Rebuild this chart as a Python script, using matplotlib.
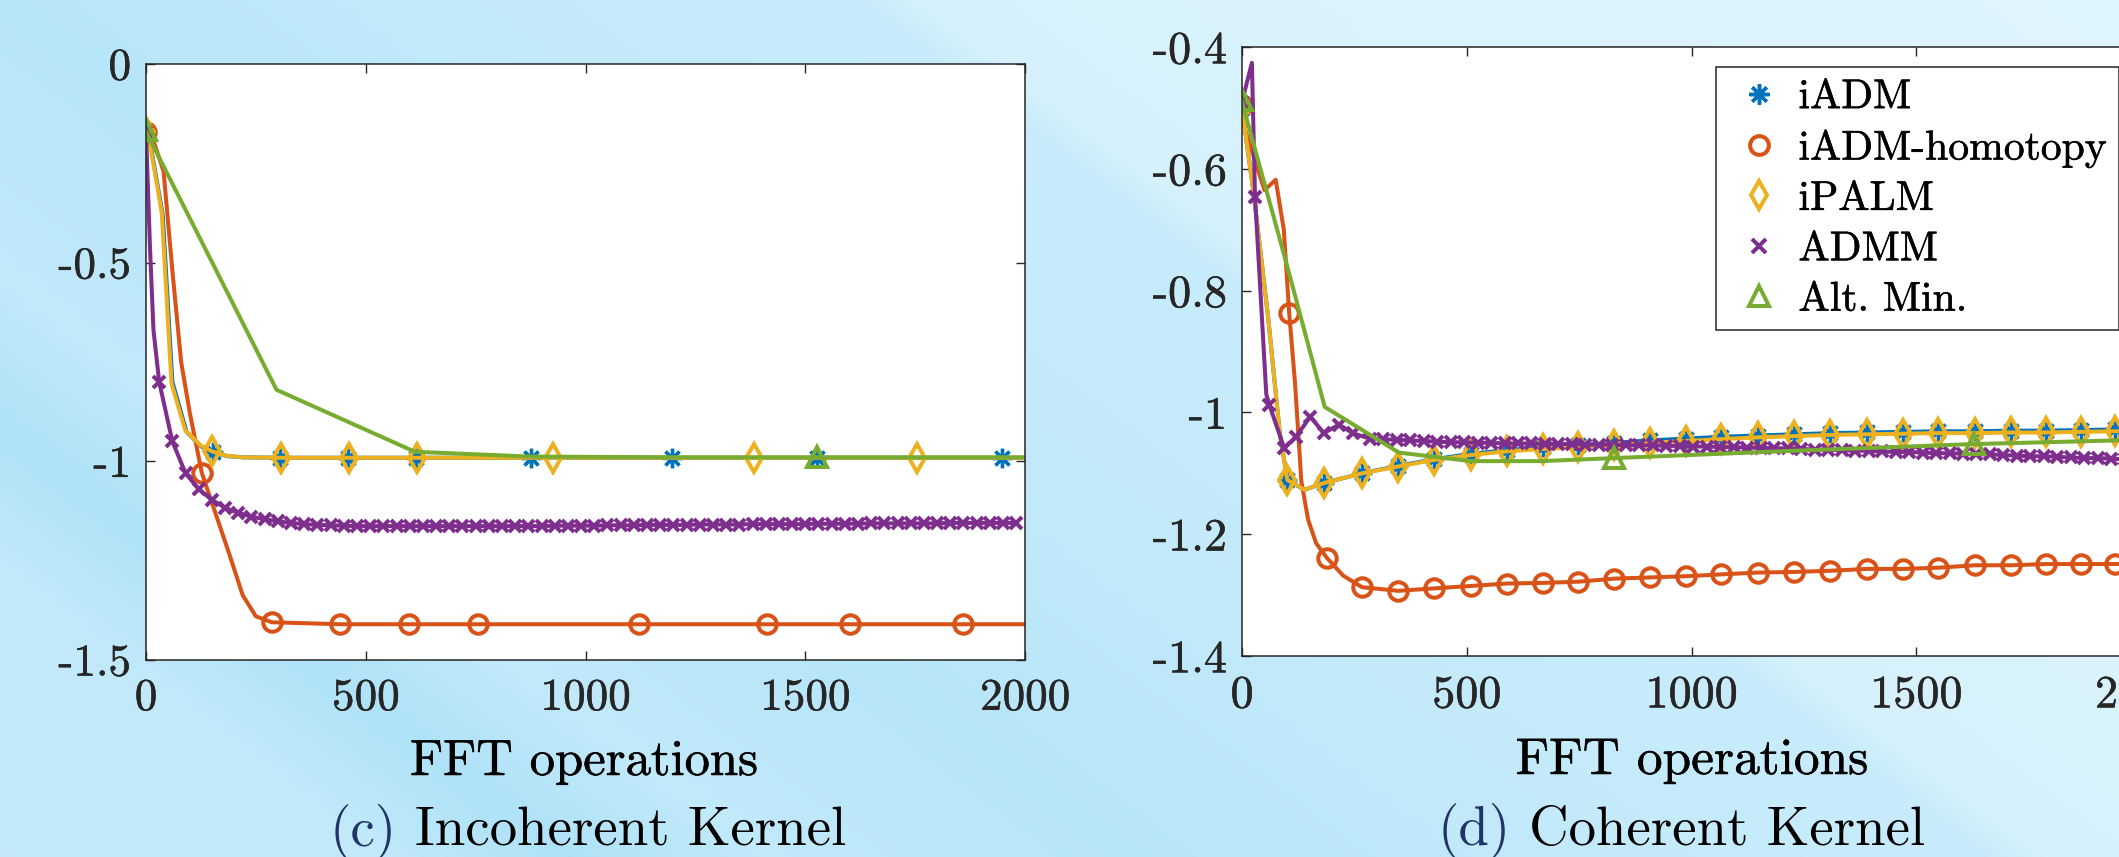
import numpy as np
import matplotlib
matplotlib.use('Agg')
import matplotlib.pyplot as plt
import matplotlib.patheffects as pe
from matplotlib.lines import Line2D

plt.rcParams['font.family'] = ['cmr10', 'DejaVu Serif']
plt.rcParams['axes.unicode_minus'] = False

W, H = 2119, 857

# ---------------- (c) Incoherent Kernel ----------------
iadm_c_x = [0, 6, 38, 60, 92, 125, 152, 186, 222, 306, 460, 615, 875, 1197, 1527, 1947, 2000]
iadm_c_y = [-0.17, -0.175, -0.38, -0.80, -0.925, -0.962, -0.977, -0.987, -0.990, -0.991, -0.991,
            -0.991, -0.991, -0.991, -0.991, -0.991, -0.991]
iadm_c_mx = [0, 152, 306, 460, 615, 875, 1197, 1527, 1947]
iadm_c_my = [-0.17, -0.977, -0.991, -0.991, -0.991, -0.991, -0.991, -0.991, -0.991]

hom_c_x = [0, 10, 40, 60, 80, 100, 127, 160, 190, 220, 250, 286, 442, 598, 755, 1122, 1413, 1602, 1859, 2000]
hom_c_y = [-0.17, -0.17, -0.27, -0.52, -0.75, -0.88, -1.029, -1.137, -1.235, -1.337, -1.39, -1.405,
           -1.41, -1.41, -1.41, -1.41, -1.41, -1.41, -1.41, -1.41]
hom_c_mx = [0, 127, 286, 442, 598, 755, 1122, 1413, 1602, 1859]
hom_c_my = [-0.17, -1.029, -1.405, -1.41, -1.41, -1.41, -1.41, -1.41, -1.41, -1.41]

ipalm_c_x = [0, 5, 36, 58, 89, 123, 150, 184, 221, 307, 462, 617, 926, 1383, 1754, 2000]
ipalm_c_y = [-0.17, -0.174, -0.376, -0.804, -0.921, -0.959, -0.975, -0.986, -0.990, -0.991, -0.991,
             -0.991, -0.991, -0.991, -0.991, -0.991]
ipalm_c_mx = [0, 150, 307, 462, 617, 926, 1383, 1754]
ipalm_c_my = [-0.17, -0.975, -0.991, -0.991, -0.991, -0.991, -0.991, -0.991]

admm_c_x = [0, 9, 17, 30, 60, 90, 120, 150, 180, 210, 240, 270, 300, 330, 360, 390, 420, 450, 480,
            510, 540, 570, 600, 630, 660, 690, 720, 750, 780, 810, 840, 870, 900, 930, 960, 990,
            1020, 1050, 1080, 1110, 1140, 1170, 1200, 1230, 1260, 1290, 1320, 1350, 1380, 1410,
            1440, 1470, 1500, 1530, 1560, 1590, 1620, 1650, 1680, 1710, 1740, 1770, 1800, 1830,
            1860, 1890, 1920, 1950, 1980]
admm_c_y = [-0.17, -0.46, -0.67, -0.80, -0.95, -1.03, -1.07, -1.097, -1.117, -1.130, -1.139, -1.146,
            -1.151, -1.155, -1.158, -1.160, -1.161, -1.162, -1.163, -1.163, -1.163, -1.163, -1.163,
            -1.163, -1.163, -1.163, -1.163, -1.163, -1.163, -1.163, -1.163, -1.163, -1.163, -1.162,
            -1.162, -1.162, -1.162, -1.161, -1.161, -1.161, -1.160, -1.160, -1.160, -1.160, -1.159,
            -1.159, -1.159, -1.159, -1.158, -1.158, -1.158, -1.158, -1.158, -1.157, -1.157, -1.157,
            -1.157, -1.156, -1.156, -1.156, -1.156, -1.156, -1.156, -1.155, -1.155, -1.155, -1.155,
            -1.155, -1.155]
admm_c_skip = [1, 2]  # line vertices drawn without a marker

alt_c_x = [0, 297, 612, 874, 1227, 1527, 2000]
alt_c_y = [-0.17, -0.82, -0.976, -0.988, -0.990, -0.990, -0.990]
alt_c_mx = [0, 1527]
alt_c_my = [-0.165, -0.990]

# ---------------- (d) Coherent Kernel ----------------
ipalm_d_x = [0, 25, 58, 84, 101, 139, 182, 267, 346, 427, 509, 589, 669, 748, 828, 907, 987, 1066,
             1148, 1228, 1309, 1391, 1471, 1549, 1631, 1711, 1789, 1866, 1943, 2000]
ipalm_d_y = [-0.50, -0.635, -0.843, -1.034, -1.111, -1.127, -1.116, -1.100, -1.089, -1.078, -1.070,
             -1.064, -1.060, -1.057, -1.054, -1.050, -1.047, -1.044, -1.041, -1.039, -1.037, -1.036,
             -1.035, -1.034, -1.034, -1.033, -1.033, -1.032, -1.031, -1.031]
ipalm_d_mx = [0, 101, 182, 267, 346, 427, 509, 589, 669, 748, 828, 907, 987, 1066, 1148, 1228, 1309,
              1391, 1471, 1549, 1631, 1711, 1789, 1866, 1943]
ipalm_d_my = [-0.50, -1.111, -1.116, -1.100, -1.089, -1.078, -1.070, -1.064, -1.060, -1.057, -1.054,
              -1.050, -1.047, -1.044, -1.041, -1.039, -1.037, -1.036, -1.035, -1.034, -1.034, -1.033,
              -1.033, -1.032, -1.031]

iadm_d_x = ipalm_d_x
iadm_d_y = [-0.50, -0.635, -0.843, -1.034, -1.111, -1.127, -1.116, -1.100, -1.088, -1.077, -1.068,
            -1.062, -1.057, -1.054, -1.050, -1.046, -1.043, -1.040, -1.038, -1.036, -1.034, -1.033,
            -1.032, -1.031, -1.031, -1.030, -1.030, -1.029, -1.028, -1.028]
iadm_d_mx = ipalm_d_mx
iadm_d_my = [-0.50, -1.111, -1.116, -1.100, -1.088, -1.077, -1.068, -1.062, -1.057, -1.054, -1.050,
             -1.046, -1.043, -1.040, -1.038, -1.036, -1.034, -1.033, -1.032, -1.031, -1.031, -1.030,
             -1.030, -1.029, -1.028]

hom_d_x = [0, 7, 50, 75, 93, 105, 118, 132, 147, 165, 189, 225, 267, 348, 427, 509, 589, 669, 748,
           828, 907, 987, 1066, 1148, 1228, 1309, 1391, 1471, 1549, 1631, 1711, 1789, 1866, 1943, 2000]
hom_d_y = [-0.495, -0.536, -0.635, -0.618, -0.70, -0.837, -0.952, -1.113, -1.176, -1.215, -1.239,
           -1.268, -1.287, -1.293, -1.289, -1.285, -1.281, -1.280, -1.278, -1.273, -1.271, -1.269,
           -1.266, -1.263, -1.262, -1.260, -1.257, -1.257, -1.255, -1.251, -1.251, -1.249, -1.249,
           -1.249, -1.248]
hom_d_mx = [0, 105, 189, 267, 348, 427, 509, 589, 669, 748, 828, 907, 987, 1066, 1148, 1228, 1309,
            1391, 1471, 1549, 1631, 1711, 1789, 1866, 1943]
hom_d_my = [-0.495, -0.837, -1.239, -1.287, -1.293, -1.289, -1.285, -1.281, -1.280, -1.278, -1.273,
            -1.271, -1.269, -1.266, -1.263, -1.262, -1.260, -1.257, -1.257, -1.255, -1.251, -1.251,
            -1.249, -1.249, -1.249]

admm_d_x = [0, 22, 29, 54, 61, 94, 120, 152, 182, 216, 246, 284, 314, 344, 374, 404, 434, 464, 494,
            524, 554, 584, 614, 644, 674, 704, 734, 764, 794, 824, 854, 884, 914, 944, 974, 1004,
            1034, 1064, 1094, 1124, 1154, 1184, 1214, 1244, 1274, 1304, 1334, 1364, 1394, 1424,
            1454, 1484, 1514, 1544, 1574, 1604, 1634, 1664, 1694, 1724, 1754, 1784, 1814, 1844,
            1874, 1904, 1934, 1964, 1994]
admm_d_y = [-0.49, -0.426, -0.646, -0.97, -0.988, -1.059, -1.040, -1.007, -1.034, -1.020, -1.034,
            -1.043, -1.044, -1.045, -1.046, -1.047, -1.048, -1.049, -1.049, -1.050, -1.050, -1.051,
            -1.051, -1.051, -1.052, -1.052, -1.052, -1.053, -1.053, -1.053, -1.054, -1.054, -1.054,
            -1.055, -1.055, -1.056, -1.056, -1.057, -1.057, -1.058, -1.058, -1.059, -1.059, -1.060,
            -1.061, -1.061, -1.062, -1.063, -1.063, -1.064, -1.065, -1.065, -1.066, -1.067, -1.067,
            -1.068, -1.069, -1.069, -1.070, -1.071, -1.072, -1.072, -1.073, -1.074, -1.075, -1.075,
            -1.076, -1.077, -1.078]
admm_d_skip = [1, 3]  # line vertices drawn without a marker

alt_d_x = [0, 101, 184, 349, 509, 667, 828, 1228, 1628, 2000]
alt_d_y = [-0.49, -0.761, -0.991, -1.066, -1.080, -1.080, -1.075, -1.063, -1.052, -1.045]
alt_d_mx = [0, 828, 1628]
alt_d_my = [-0.487, -1.075, -1.052]

c_blue, c_orange, c_yellow, c_purple, c_green = '#0072BD', '#D95319', '#EDB120', '#7E2F8E', '#77AC30'
labels = ['iADM', 'iADM-homotopy', 'iPALM', 'ADMM', 'Alt. Min.']

fig = plt.figure(figsize=(W / 100, H / 100), dpi=100)

# slide background
yy, xx = np.mgrid[0:H, 0:W]
v = 0.605 * xx - 0.796 * yy
t = np.interp(v, [-700, -450, -340, -220, 0, 300, 520, 560, 900, 1300],
              [0.50, 0.45, 0.18, 0.45, 0.30, 0.50, 0.55, 0.78, 0.85, 0.92])
dark = np.array([0.64, 0.87, 0.97])
light = np.array([0.90, 0.97, 0.995])
img = dark[None, None, :] * (1 - t[..., None]) + light[None, None, :] * t[..., None]
bg = fig.add_axes([0, 0, 1, 1], zorder=-10)
bg.imshow(img, aspect='auto', extent=[0, W, H, 0])
bg.axis('off')

lw = 2.9
mew = 2.9
# a hair of extra weight, like the rasterised LaTeX text
thick_k = [pe.withStroke(linewidth=0.35, foreground='black')]
thick_g = [pe.withStroke(linewidth=0.35, foreground='#262626')]


def style_axes(ax, yticks, ylabels, fs):
    ax.set_facecolor('white')
    ax.set_xlim(0, 2000)
    ax.set_xticks([0, 500, 1000, 1500, 2000])
    ax.set_xticklabels(['0', '500', '1000', '1500', '2000'])
    ax.set_yticks(yticks)
    ax.set_yticklabels(ylabels)
    ax.tick_params(direction='in', top=True, right=True, length=6.5, width=1.0,
                   colors='#262626', labelsize=fs)
    ax.tick_params(axis='x', pad=13.5)
    ax.tick_params(axis='y', pad=10.8)
    for lab in ax.get_xticklabels() + ax.get_yticklabels():
        lab.set_path_effects(thick_g)
    for s in ax.spines.values():
        s.set_color('#262626')
        s.set_linewidth(1.1)


def draw(ax, data):
    (ix, iy, imx, imy, hx, hy, hmx, hmy, px, py, pmx, pmy, ax_, ay_, amark, gx, gy, gmx, gmy) = data
    ax.plot(ix, iy, color=c_blue, lw=lw)
    ax.plot(imx, imy, ls='none', marker=(8, 2, 0), ms=14, mew=2.4, color=c_blue)
    ax.plot(hx, hy, color=c_orange, lw=lw)
    ax.plot(hmx, hmy, ls='none', marker='o', ms=13.3, mew=mew, mfc='none', color=c_orange)
    ax.plot(px, py, color=c_yellow, lw=lw)
    ax.plot(pmx, pmy, ls='none', marker='d', ms=14, mew=mew, mfc='none', color=c_yellow)
    ax.plot(ax_, ay_, color=c_purple, lw=lw, marker='x', ms=9.2, mew=mew, markevery=amark)
    ax.plot(gx, gy, color=c_green, lw=lw)
    ax.plot(gmx, gmy, ls='none', marker='^', ms=14, mew=mew, mfc='none', color=c_green)


axc = fig.add_axes([146 / W, (H - 660) / H, 879 / W, 596 / H])
style_axes(axc, [0, -0.5, -1, -1.5], ['0', '-0.5', '-1', '-1.5'], 32.5)
axc.set_ylim(-1.5, 0)
mark_c = [i for i in range(len(admm_c_x)) if i not in admm_c_skip]
draw(axc, (iadm_c_x, iadm_c_y, iadm_c_mx, iadm_c_my, hom_c_x, hom_c_y, hom_c_mx, hom_c_my,
           ipalm_c_x, ipalm_c_y, ipalm_c_mx, ipalm_c_my, admm_c_x, admm_c_y, mark_c,
           alt_c_x, alt_c_y, alt_c_mx, alt_c_my))

axd = fig.add_axes([1242 / W, (H - 656) / H, 899 / W, 609 / H])
style_axes(axd, [-0.4, -0.6, -0.8, -1, -1.2, -1.4], ['-0.4', '-0.6', '-0.8', '-1', '-1.2', '-1.4'], 33.2)
axd.set_ylim(-1.4, -0.4)
mark_d = [i for i in range(len(admm_d_x)) if i not in admm_d_skip]
draw(axd, (iadm_d_x, iadm_d_y, iadm_d_mx, iadm_d_my, hom_d_x, hom_d_y, hom_d_mx, hom_d_my,
           ipalm_d_x, ipalm_d_y, ipalm_d_mx, ipalm_d_my, admm_d_x, admm_d_y, mark_d,
           alt_d_x, alt_d_y, alt_d_mx, alt_d_my))

# legend: markers only
handles = [
    Line2D([], [], ls='none', marker=(8, 2, 0), ms=14.5, mew=2.5, color=c_blue),
    Line2D([], [], ls='none', marker='o', ms=13.5, mew=mew, mfc='none', color=c_orange),
    Line2D([], [], ls='none', marker='d', ms=14, mew=mew, mfc='none', color=c_yellow),
    Line2D([], [], ls='none', marker='x', ms=9.5, mew=mew, color=c_purple),
    Line2D([], [], ls='none', marker='^', ms=14.5, mew=mew, mfc='none', color=c_green),
]
leg = fig.legend(handles, labels, loc='upper left', bbox_to_anchor=(1716 / W, 1 - 67 / H),
                 fontsize=30, frameon=True, fancybox=False, framealpha=1, edgecolor='#262626',
                 borderaxespad=0, borderpad=0.28, handlelength=1.5, handletextpad=0.2,
                 labelspacing=0.31, numpoints=1)
leg.get_frame().set_linewidth(1.1)
for txt in leg.get_texts():
    txt.set_path_effects(thick_k)

# axis labels and captions
fig.text(584 / W, 1 - 775 / H, 'FFT operations', ha='center', va='baseline', fontsize=36.5,
         path_effects=thick_k)
fig.text(1692 / W, 1 - 774 / H, 'FFT operations', ha='center', va='baseline', fontsize=37,
         path_effects=thick_k)
fig.text(330 / W, 1 - 846 / H, '(c)', ha='left', va='baseline', fontsize=39.5, color='#1f3468')
fig.text(415 / W, 1 - 846 / H, 'Incoherent Kernel', ha='left', va='baseline', fontsize=39.5)
fig.text(1438 / W, 1 - 845 / H, '(d)', ha='left', va='baseline', fontsize=39.5, color='#1f3468')
fig.text(1529 / W, 1 - 845 / H, 'Coherent Kernel', ha='left', va='baseline', fontsize=39.5)

fig.savefig('out.png', dpi=100)
